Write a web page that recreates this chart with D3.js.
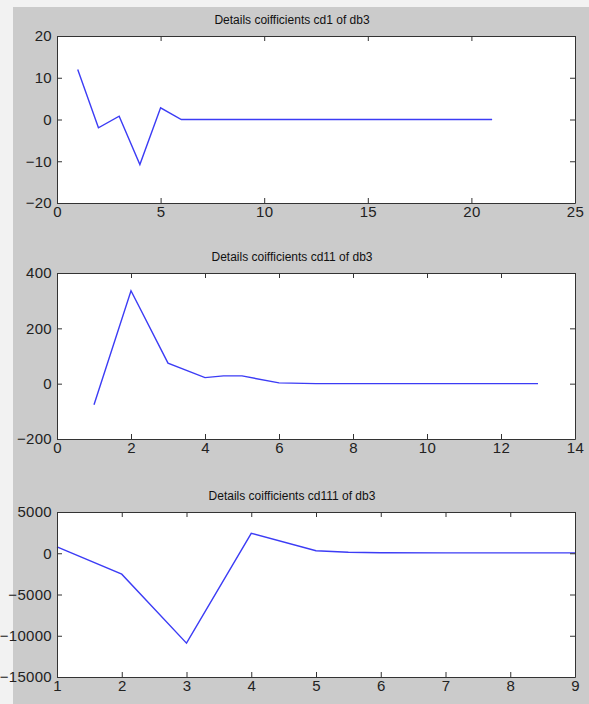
<!DOCTYPE html>
<html>
<head>
    <meta charset="utf-8">
    <title>Details coifficients of db3</title>
    <script src="https://cdn.jsdelivr.net/npm/d3@7"></script>
    <style>
        html, body {
            margin: 0;
            padding: 0;
            background: #f2f2f2;
        }
        svg {
            display: block;
            font-family: "Liberation Sans", Arial, sans-serif;
        }
        .tick text {
            font-size: 15px;
            fill: #222;
        }
        .title {
            font-size: 12px;
            fill: #111;
        }
    </style>
</head>
<body>
<svg id="chart" width="589" height="704"></svg>
<script>
    // cd1 of db3
    var cd1X = [1, 2, 3, 4, 5, 6, 7, 8, 9, 10, 11, 12, 13, 14, 15, 16, 17, 18, 19, 20, 21];
    var cd1Y = [12, -2, 0.8, -10.8, 2.8, 0, 0, 0, 0, 0, 0, 0, 0, 0, 0, 0, 0, 0, 0, 0, 0];
    var cd1XTicks = [0, 5, 10, 15, 20, 25];
    var cd1YTicks = [-20, -10, 0, 10, 20];

    // cd11 of db3
    var cd11X = [1, 2, 3, 4, 4.5, 5, 6, 7, 8, 9, 10, 11, 12, 13];
    var cd11Y = [-76, 336, 74, 22, 28, 28, 3, 0, 0, 0, 0, 0, 0, 0];
    var cd11XTicks = [0, 2, 4, 6, 8, 10, 12, 14];
    var cd11YTicks = [-200, 0, 200, 400];

    // cd111 of db3
    var cd111X = [1, 2, 3, 4, 5, 5.5, 6, 7, 8, 9];
    var cd111Y = [770, -2540, -10900, 2420, 310, 115, 60, 50, 50, 50];
    var cd111XTicks = [1, 2, 3, 4, 5, 6, 7, 8, 9];
    var cd111YTicks = [-15000, -10000, -5000, 0, 5000];

    var titles = [
        "Details coifficients cd1 of db3",
        "Details coifficients cd11 of db3",
        "Details coifficients cd111 of db3"
    ];

    var svg = d3.select("#chart");

    // grey figure area (a thin lighter strip stays on the left and top)
    svg.append("rect")
        .attr("x", 13).attr("y", 7)
        .attr("width", 589 - 13).attr("height", 704 - 7)
        .attr("fill", "#cbcbcb");

    var left = 57, right = 575;
    var plain = d3.format("d");

    var panels = [
        {x: cd1X, y: cd1Y, xTicks: cd1XTicks, yTicks: cd1YTicks, top: 36, bottom: 203, titleY: 24},
        {x: cd11X, y: cd11Y, xTicks: cd11XTicks, yTicks: cd11YTicks, top: 273, bottom: 439, titleY: 261},
        {x: cd111X, y: cd111Y, xTicks: cd111XTicks, yTicks: cd111YTicks, top: 512, bottom: 677, titleY: 500}
    ];

    panels.forEach(function(p, i) {
        var xs = d3.scaleLinear()
            .domain(d3.extent(p.xTicks))
            .range([left, right]);
        var ys = d3.scaleLinear()
            .domain(d3.extent(p.yTicks))
            .range([p.bottom, p.top]);

        var g = svg.append("g");

        g.append("rect")
            .attr("x", left).attr("y", p.top)
            .attr("width", right - left).attr("height", p.bottom - p.top)
            .attr("fill", "#fff");

        var line = d3.line()
            .x(function(d) { return xs(d[0]); })
            .y(function(d) { return ys(d[1]); });

        g.append("path")
            .datum(d3.zip(p.x, p.y))
            .attr("d", line)
            .attr("fill", "none")
            .attr("stroke", "#3c3cf5")
            .attr("stroke-width", 1.4);

        // ticks point inwards on all four sides, labels only bottom / left
        g.append("g")
            .attr("transform", "translate(0," + p.bottom + ")")
            .call(d3.axisBottom(xs).tickValues(p.xTicks).tickFormat(plain)
                .tickSizeInner(-5).tickSizeOuter(0).tickPadding(3));
        g.append("g")
            .attr("transform", "translate(0," + p.top + ")")
            .call(d3.axisTop(xs).tickValues(p.xTicks).tickSizeInner(-5).tickSizeOuter(0).tickFormat(""));
        g.append("g")
            .attr("transform", "translate(" + left + ",0)")
            .call(d3.axisLeft(ys).tickValues(p.yTicks).tickFormat(plain)
                .tickSizeInner(-5).tickSizeOuter(0).tickPadding(5));
        g.append("g")
            .attr("transform", "translate(" + right + ",0)")
            .call(d3.axisRight(ys).tickValues(p.yTicks).tickSizeInner(-5).tickSizeOuter(0).tickFormat(""));

        g.selectAll(".domain").attr("stroke", "#333");
        g.selectAll(".tick line").attr("stroke", "#333");
        g.selectAll(".tick text").style("letter-spacing", "0.3px");

        g.append("text")
            .attr("class", "title")
            .attr("x", 292)
            .attr("y", p.titleY)
            .attr("text-anchor", "middle")
            .text(titles[i]);
    });
</script>
</body>
</html>
